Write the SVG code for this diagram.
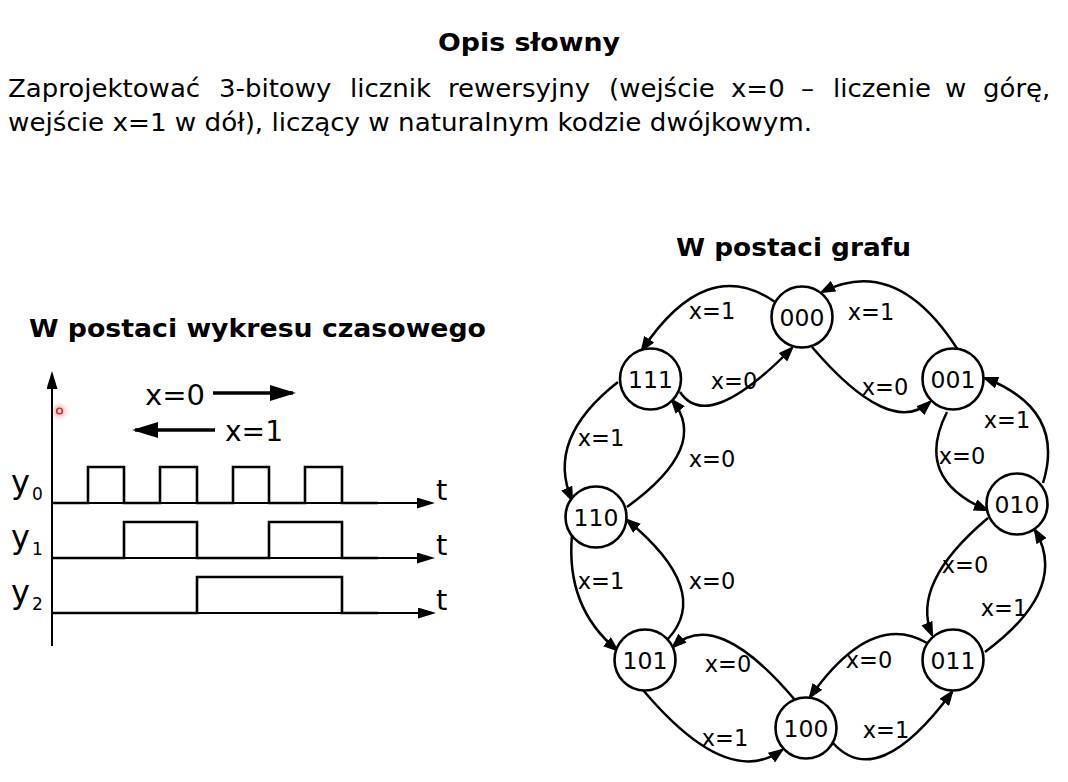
<svg xmlns="http://www.w3.org/2000/svg" width="1068" height="782" viewBox="0 0 1068 782">
<defs>
<style>
text{font-family:"DejaVu Sans",Verdana,"Liberation Sans",sans-serif;fill:#000}
.title{font-size:25.5px;font-weight:bold}
.para{font-size:25px}
.node circle{fill:#fff;stroke:#000;stroke-width:2.6}
.node text{font-size:23.5px;text-anchor:middle}
.lbl{font-size:22.5px;text-anchor:middle}
.edge{fill:none;stroke:#000;stroke-width:2.5;marker-end:url(#ah)}
.axis{fill:none;stroke:#000;stroke-width:2}
.sig{fill:none;stroke:#000;stroke-width:2.6;stroke-linejoin:miter}
.tl{font-size:29px}
.yl{font-size:32px}
.ys{font-size:17px}
.big{font-size:28px}
</style>
<marker id="ah" markerWidth="16" markerHeight="12" refX="13" refY="6" orient="auto" markerUnits="userSpaceOnUse"><path d="M0,0 L16,6 L0,12 z" fill="#000"/></marker>
<marker id="ax" markerWidth="18" markerHeight="11" refX="15" refY="5.5" orient="auto" markerUnits="userSpaceOnUse"><path d="M0,0 L18,5.5 L0,11 z" fill="#000"/></marker>
<marker id="bigah" markerWidth="26" markerHeight="16" refX="23" refY="8" orient="auto" markerUnits="userSpaceOnUse"><path d="M0,0 L26,8 L0,16 z" fill="#000"/></marker>
<radialGradient id="glow"><stop offset="0" stop-color="#ff3030" stop-opacity="0.45"/><stop offset="1" stop-color="#ff3030" stop-opacity="0"/></radialGradient>
</defs>
<rect width="1068" height="782" fill="#fff"/>

<!-- Header -->
<text class="title" x="438" y="51" textLength="182" lengthAdjust="spacingAndGlyphs">Opis słowny</text>
<text class="para" y="97" transform="scale(1.04 1)"><tspan x="7.69">Zaprojektować</tspan> <tspan x="210.58">3-bitowy</tspan> <tspan x="336.54">licznik</tspan> <tspan x="430.77">rewersyjny</tspan> <tspan x="585.58">(wejście</tspan> <tspan x="702.88">x=0</tspan> <tspan x="770.19">–</tspan> <tspan x="800.96">liczenie</tspan> <tspan x="908.65">w</tspan> <tspan x="945.19">górę,</tspan></text>
<text class="para" x="8" y="131" textLength="804" lengthAdjust="spacingAndGlyphs">wejście x=1 w dół), liczący w naturalnym kodzie dwójkowym.</text>

<text class="title" x="676" y="256" textLength="235" lengthAdjust="spacingAndGlyphs">W postaci grafu</text>
<text class="title" x="29" y="337" textLength="457" lengthAdjust="spacingAndGlyphs">W postaci wykresu czasowego</text>

<!-- Timing diagram -->
<g id="timing">
<line class="axis" x1="52" y1="646" x2="52" y2="374" marker-end="url(#ax)"/>
<line class="axis" x1="52" y1="503" x2="432" y2="503" marker-end="url(#ax)"/>
<line class="axis" x1="52" y1="558" x2="432" y2="558" marker-end="url(#ax)"/>
<line class="axis" x1="52" y1="613" x2="433" y2="613" marker-end="url(#ax)"/>
<path class="sig" d="M52,503 H88 V467 H124 V503 H160 V467 H197 V503 H233 V467 H269 V503 H305 V467 H342 V503 H378"/>
<path class="sig" d="M52,558 H124 V522 H197 V558 H269 V522 H342 V558 H378"/>
<path class="sig" d="M52,613 H197 V577 H342 V613 H378"/>
<text class="yl" x="11" y="493">y</text><text class="ys" x="32" y="500">0</text>
<text class="yl" x="11" y="548">y</text><text class="ys" x="32" y="555">1</text>
<text class="yl" x="11" y="603">y</text><text class="ys" x="32" y="610">2</text>
<text class="tl" x="436" y="500">t</text>
<text class="tl" x="436" y="555">t</text>
<text class="tl" x="436" y="610">t</text>
<text class="big" x="145" y="405" textLength="60" lengthAdjust="spacingAndGlyphs">x=0</text>
<line x1="213" y1="393" x2="293" y2="393" stroke="#000" stroke-width="3.3" marker-end="url(#bigah)"/>
<line x1="215" y1="430" x2="135" y2="430" stroke="#000" stroke-width="3.3" marker-end="url(#bigah)"/>
<text class="big" x="225" y="441" textLength="58" lengthAdjust="spacingAndGlyphs">x=1</text>
<circle cx="59.5" cy="411" r="9" fill="url(#glow)"/>
<circle cx="59.5" cy="411" r="2.8" fill="#fff" stroke="#e82020" stroke-width="1.6"/>
</g>

<!-- Connectors -->
<g id="connectors">
<path class="edge" d="M775,302 Q706,254 642,350"/>
<path class="edge" d="M680,392 Q708,434 792,348"/>
<path class="edge" d="M812,347 Q890,438 930,402"/>
<path class="edge" d="M958,350 Q897,254 822,292"/>
<path class="edge" d="M947,412 Q913,479 987,510"/>
<path class="edge" d="M1043,483 Q1066,409.5 985,378"/>
<path class="edge" d="M618,382 Q545,439 572,500"/>
<path class="edge" d="M627,507 Q710.5,446.5 672,400"/>
<path class="edge" d="M572,535 Q565.5,607.5 617,650"/>
<path class="edge" d="M668,639 Q712.5,590.5 627,520"/>
<path class="edge" d="M988,518 Q910,583.5 932,635"/>
<path class="edge" d="M985,652 Q1070,589 1035,530"/>
<path class="edge" d="M795,700 Q716,606.5 673,647"/>
<path class="edge" d="M643,690 Q727.5,790 782,750"/>
<path class="edge" d="M927,643 Q871.5,610 810,697"/>
<path class="edge" d="M833,743 Q877.5,792.5 952,692"/>
<text class="lbl" x="712" y="319">x=1</text>
<text class="lbl" x="871" y="320">x=1</text>
<text class="lbl" x="734" y="389">x=0</text>
<text class="lbl" x="885" y="395">x=0</text>
<text class="lbl" x="1007" y="428">x=1</text>
<text class="lbl" x="962" y="464">x=0</text>
<text class="lbl" x="601" y="445.5">x=1</text>
<text class="lbl" x="712" y="467">x=0</text>
<text class="lbl" x="601" y="589">x=1</text>
<text class="lbl" x="712" y="589">x=0</text>
<text class="lbl" x="728" y="672">x=0</text>
<text class="lbl" x="725" y="745.5">x=1</text>
<text class="lbl" x="869" y="667.5">x=0</text>
<text class="lbl" x="886" y="737.5">x=1</text>
<text class="lbl" x="965" y="572.5">x=0</text>
<text class="lbl" x="1004" y="615.5">x=1</text>
</g>

<!-- Nodes -->
<g id="n000" class="node"><circle cx="802" cy="317" r="30.5"/><text x="802" y="325.5">000</text></g>
<g id="n001" class="node"><circle cx="953" cy="379" r="30.5"/><text x="953" y="387.5">001</text></g>
<g id="n010" class="node"><circle cx="1017" cy="504" r="30.5"/><text x="1017" y="512.5">010</text></g>
<g id="n011" class="node"><circle cx="953" cy="660" r="30.5"/><text x="953" y="668.5">011</text></g>
<g id="n100" class="node"><circle cx="806" cy="728" r="30.5"/><text x="806" y="736.5">100</text></g>
<g id="n101" class="node"><circle cx="645" cy="660" r="30.5"/><text x="645" y="668.5">101</text></g>
<g id="n110" class="node"><circle cx="596" cy="517" r="30.5"/><text x="596" y="525.5">110</text></g>
<g id="n111" class="node"><circle cx="650.5" cy="379" r="30.5"/><text x="650.5" y="387.5">111</text></g>
</svg>
